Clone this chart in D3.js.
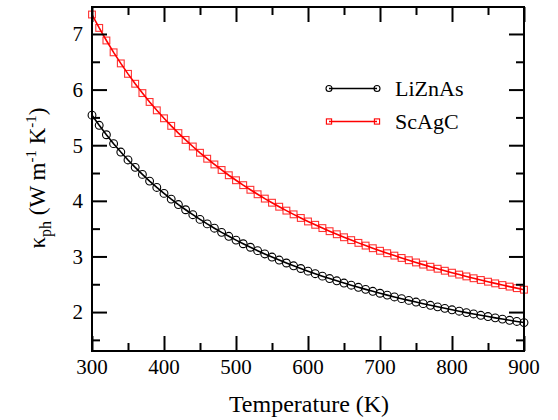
<!DOCTYPE html>
<html>
<head>
<meta charset="utf-8">
<script src="https://cdn.jsdelivr.net/npm/d3@7"></script>
<style>
  body { margin: 0; background: #fff; }
  svg { display: block; }
</style>
</head>
<body>
<svg id="chart" width="558" height="420"></svg>
<script>
const temperatures = [300,310,320,330,340,350,360,370,380,390,400,410,420,430,440,450,460,470,480,490,500,
  510,520,530,540,550,560,570,580,590,600,610,620,630,640,650,660,670,680,690,700,
  710,720,730,740,750,760,770,780,790,800,810,820,830,840,850,860,870,880,890,900];

const liZnAs = [5.540,5.358,5.188,5.028,4.877,4.735,4.602,4.475,4.355,4.241,4.134,
  4.031,3.933,3.840,3.751,3.666,3.585,3.508,3.433,3.362,3.294,
  3.228,3.165,3.104,3.045,2.989,2.935,2.882,2.832,2.783,2.736,
  2.690,2.646,2.603,2.562,2.522,2.483,2.445,2.408,2.373,2.338,
  2.305,2.272,2.241,2.210,2.180,2.151,2.122,2.094,2.067,2.041,
  2.016,1.990,1.966,1.942,1.919,1.896,1.874,1.852,1.831,1.811];

const scAgC = [7.350,7.109,6.883,6.670,6.471,6.283,6.105,5.937,5.778,5.627,5.484,
  5.348,5.218,5.095,4.977,4.864,4.757,4.654,4.555,4.460,4.370,
  4.282,4.199,4.118,4.040,3.966,3.894,3.824,3.757,3.692,3.629,
  3.569,3.510,3.454,3.399,3.345,3.294,3.244,3.195,3.148,3.102,
  3.058,3.015,2.973,2.932,2.892,2.853,2.815,2.779,2.743,2.708,
  2.674,2.641,2.608,2.577,2.546,2.516,2.486,2.458,2.430,2.402];

const xTicks = [300,400,500,600,700,800,900];
const xMinor = [350,450,550,650,750,850];
const yTicks = [2,3,4,5,6,7];
const yMinor = [1.5,2.5,3.5,4.5,5.5,6.5];
const seriesNames = ["LiZnAs","ScAgC"];
const seriesColors = ["#000000","#ff0000"];

const FONT = "'Liberation Serif', 'Times New Roman', Times, 'DejaVu Serif', serif";

const svg = d3.select("#chart").attr("font-family", FONT);
const L = 92, R = 524, T = 7, B = 351;
const x = d3.scaleLinear().domain([300, 900]).range([L, R]);
const y = d3.scaleLinear().domain([1.3, 7.485]).range([B, T]);

const majorLen = 15, minorLen = 8;

const series = [
  {name: seriesNames[0], color: seriesColors[0], values: liZnAs, shape: "circle"},
  {name: seriesNames[1], color: seriesColors[1], values: scAgC, shape: "square"}
];
const line = d3.line().x(d => x(d[0])).y(d => y(d[1]));

svg.append("defs").append("clipPath").attr("id","clip")
  .append("rect").attr("x", L - 6).attr("y", T).attr("width", R - L + 12).attr("height", B - T);

series.forEach(s => {
  const pts = temperatures.map((t, i) => [t, s.values[i]]);
  const g = svg.append("g").attr("clip-path", "url(#clip)");
  g.append("path").datum(pts).attr("d", line)
    .attr("fill", "none").attr("stroke", s.color).attr("stroke-width", 1.6);
  if (s.shape === "circle") {
    g.selectAll("circle").data(pts).enter().append("circle")
      .attr("cx", d => x(d[0])).attr("cy", d => y(d[1])).attr("r", 3.9)
      .attr("fill", "none").attr("stroke", s.color).attr("stroke-width", 1.1);
  } else {
    g.selectAll("rect").data(pts).enter().append("rect")
      .attr("x", d => x(d[0]) - 3.4).attr("y", d => y(d[1]) - 3.4)
      .attr("width", 6.8).attr("height", 6.8)
      .attr("fill", "none").attr("stroke", s.color).attr("stroke-width", 1.1)
      .attr("stroke-opacity", 0.8);
  }
});

function addAxis(axisGen, tx, ty, ticks, len) {
  const g = svg.append("g").attr("transform", `translate(${tx},${ty})`)
    .call(axisGen.tickValues(ticks).tickSize(len).tickSizeOuter(0).tickFormat(""));
  g.select(".domain").remove();
  g.selectAll("line").attr("stroke", "#000").attr("stroke-width", 2);
  return g;
}
addAxis(d3.axisTop(x), 0, B, xTicks, majorLen);
addAxis(d3.axisTop(x), 0, B, xMinor, minorLen);
addAxis(d3.axisBottom(x), 0, T, xTicks, majorLen);
addAxis(d3.axisBottom(x), 0, T, xMinor, minorLen);
addAxis(d3.axisRight(y), L, 0, yTicks, majorLen);
addAxis(d3.axisRight(y), L, 0, yMinor, minorLen);
addAxis(d3.axisLeft(y), R, 0, yTicks, majorLen);
addAxis(d3.axisLeft(y), R, 0, yMinor, minorLen);

svg.append("g").selectAll("text").data(xTicks).enter().append("text")
  .attr("font-family", FONT)
  .attr("x", d => x(d)).attr("y", 374).attr("text-anchor", "middle")
  .attr("font-size", 21).text(d => d);
svg.append("g").selectAll("text").data(yTicks).enter().append("text")
  .attr("font-family", FONT)
  .attr("x", 83).attr("y", d => y(d)).attr("dy", "0.35em").attr("text-anchor", "end")
  .attr("font-size", 21).text(d => d);

svg.append("rect").attr("x", L).attr("y", T).attr("width", R - L).attr("height", B - T)
  .attr("fill", "none").attr("stroke", "#000").attr("stroke-width", 2);

svg.append("text").attr("font-family", FONT)
  .attr("x", (L + R) / 2 + 1).attr("y", 412).attr("text-anchor", "middle")
  .attr("font-size", 24).text("Temperature (K)");

const yt = svg.append("text").attr("font-family", FONT)
  .attr("transform", "translate(45,178) rotate(-90)")
  .attr("text-anchor", "middle").attr("font-size", 23);
yt.append("tspan").text("κ");
yt.append("tspan").attr("font-size", 16).attr("dy", 6).text("ph");
yt.append("tspan").attr("dy", -6).text(" (W m");
yt.append("tspan").attr("font-size", 15).attr("dy", -9).text("-1");
yt.append("tspan").attr("dy", 9).text(" K");
yt.append("tspan").attr("font-size", 15).attr("dy", -9).text("-1");
yt.append("tspan").attr("dy", 9).text(")");

const legY = [88.5, 121.5];
series.forEach((s, i) => {
  const g = svg.append("g");
  g.append("line").attr("x1", 329).attr("x2", 377).attr("y1", legY[i]).attr("y2", legY[i])
    .attr("stroke", s.color).attr("stroke-width", 1.6);
  [329, 377].forEach(cx => {
    if (s.shape === "circle") {
      g.append("circle").attr("cx", cx).attr("cy", legY[i]).attr("r", 3)
        .attr("fill", "none").attr("stroke", s.color).attr("stroke-width", 1.1);
    } else {
      g.append("rect").attr("x", cx - 2.6).attr("y", legY[i] - 2.6).attr("width", 5.2).attr("height", 5.2)
        .attr("fill", "none").attr("stroke", s.color).attr("stroke-width", 1.1);
    }
  });
  g.append("text").attr("font-family", FONT)
    .attr("x", 395).attr("y", legY[i] + 7.5).attr("font-size", 22).text(s.name);
});
</script>
</body>
</html>
